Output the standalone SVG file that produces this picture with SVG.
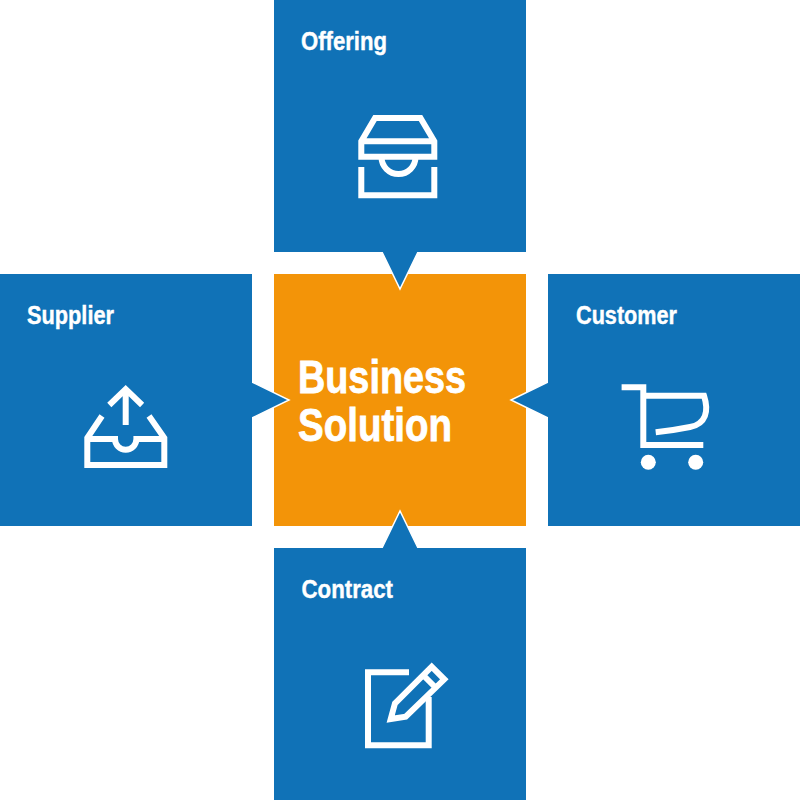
<svg xmlns="http://www.w3.org/2000/svg" width="800" height="800" viewBox="0 0 800 800">
<style>
.box{fill:#1072b7}
.tip{fill:#1072b7;stroke:#fff;stroke-width:1.5;stroke-linejoin:miter}
.ic{fill:none;stroke:#fff;stroke-width:6;stroke-linejoin:miter;stroke-linecap:butt}
.w{fill:#fff}
text{font-family:"Liberation Sans",Arial,sans-serif;font-weight:700;fill:#fff;stroke:#fff}
.s{font-size:25px;stroke-width:.4}
.b{font-size:46px;stroke-width:.8}
</style>
<rect width="800" height="800" fill="#fff"/>
<g id="center">
<rect x="274" y="274" width="252" height="252" fill="#f39408"/>
<text class="b" x="298" y="393" textLength="168" lengthAdjust="spacingAndGlyphs">Business</text>
<text class="b" x="298" y="441" textLength="154" lengthAdjust="spacingAndGlyphs">Solution</text>
</g>
<g id="connectors">
<path class="tip" d="M381.500 251L400 289L418.500 251"/>
<path class="tip" d="M251 381.500L289 400L251 418.500"/>
<path class="tip" d="M549 381.500L511 400L549 418.500"/>
<path class="tip" d="M381.500 549L400 511L418.500 549"/>
</g>
<g id="offering">
<rect class="box" x="274" y="0" width="252" height="252"/>
<text class="s" x="301" y="49.500" textLength="86" lengthAdjust="spacingAndGlyphs">Offering</text>
<path class="ic" d="M361.300 141.300L375 118H420.500L434.300 141.300V156.700H361.300ZM361.300 141.300H434.300M361.300 167V195.300H434.300V167M381.500 157A16.800 16.800 0 0 0 415.500 157"/>
</g>
<g id="supplier">
<rect class="box" x="0" y="274" width="252" height="252"/>
<text class="s" x="27" y="323.500" textLength="87" lengthAdjust="spacingAndGlyphs">Supplier</text>
<path class="ic" d="M102 416L87.300 438V465H164.300V438L149 416M87.300 439H115A10.500 10.500 0 0 0 136.400 439H164.300M125.700 425V390M109.300 405L125.700 389.200L142.100 405"/>
</g>
<g id="customer">
<rect class="box" x="548" y="274" width="252" height="252"/>
<text class="s" x="576" y="323.500" textLength="101" lengthAdjust="spacingAndGlyphs">Customer</text>
<path class="ic" d="M621.600 387.300H643.300V445H703.300M643.300 395.700H704C709 411 706 424 690 427C680 429 668 431 655.700 432.300"/>
<circle class="w" cx="648.300" cy="462.300" r="7.500"/>
<circle class="w" cx="695.700" cy="462.300" r="7.500"/>
</g>
<g id="contract">
<rect class="box" x="274" y="548" width="252" height="252"/>
<text class="s" x="301.500" y="597.500" textLength="91.500" lengthAdjust="spacingAndGlyphs">Contract</text>
<path class="ic" d="M409 672.300H368V745.300H428.700V697"/>
<path class="ic" d="M395 703.300L431.700 666.700L444.300 679.300L405.700 716.700L390.700 719ZM423 675L436 688"/>
</g>
</svg>
